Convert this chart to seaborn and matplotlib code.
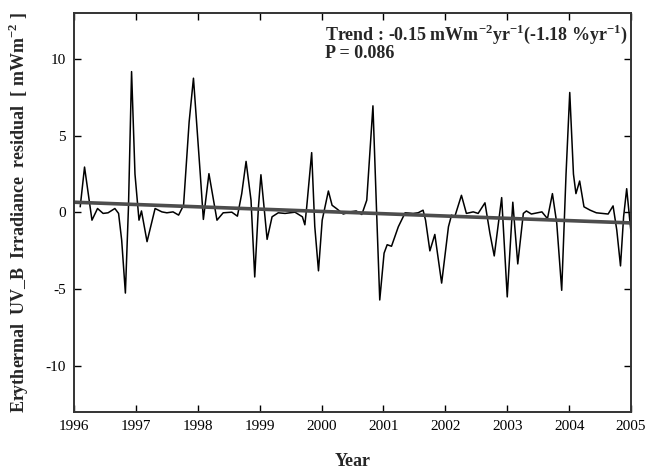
import numpy as np
import pandas as pd
import matplotlib
matplotlib.use("Agg")
import matplotlib.pyplot as plt
import seaborn as sns

# residual series (decimal year, mW m-2)
years = [1996.10, 1996.17, 1996.29, 1996.38, 1996.47, 1996.55, 1996.66, 1996.72, 1996.77, 1996.83,
         1996.88, 1996.93, 1996.985, 1997.05, 1997.09, 1997.18, 1997.31, 1997.42, 1997.50, 1997.60,
         1997.69, 1997.77, 1997.86, 1997.93, 1998.04, 1998.09, 1998.18, 1998.31, 1998.41, 1998.55,
         1998.64, 1998.71, 1998.78, 1998.86, 1998.92, 1998.98, 1999.02, 1999.07, 1999.12, 1999.20,
         1999.30, 1999.41, 1999.57, 1999.69, 1999.73, 1999.76, 1999.84, 1999.89, 1999.95, 2000.01,
         2000.11, 2000.17, 2000.24, 2000.35, 2000.46, 2000.56, 2000.65, 2000.73, 2000.83, 2000.89,
         2000.94, 2001.01, 2001.06, 2001.13, 2001.24, 2001.35, 2001.48, 2001.56, 2001.64, 2001.68,
         2001.75, 2001.83, 2001.94, 2002.05, 2002.10, 2002.15, 2002.26, 2002.34, 2002.45, 2002.53,
         2002.64, 2002.72, 2002.79, 2002.91, 2003.00, 2003.09, 2003.17, 2003.26, 2003.31, 2003.39,
         2003.56, 2003.65, 2003.73, 2003.80, 2003.88, 2003.95, 2004.01, 2004.07, 2004.11, 2004.17,
         2004.24, 2004.34, 2004.44, 2004.63, 2004.71, 2004.77, 2004.83, 2004.88, 2004.93, 2004.98,
         2005.00]
residual = [0.37, 2.96, -0.50, 0.26, -0.06, -0.02, 0.26, -0.06, -1.80, -5.25,
            0.37, 9.18, 2.50, -0.50, 0.10, -1.90, 0.26, 0.04, -0.02, 0.04,
            -0.17, 0.47, 5.90, 8.75, 2.50, -0.45, 2.53, -0.50, -0.02, 0.02,
            -0.24, 1.23, 3.33, 0.80, -4.20, 0.37, 2.46, 0.37, -1.75, -0.28,
            -0.02, -0.06, 0.02, -0.28, -0.80, 0.37, 3.90, -0.90, -3.80, -0.50,
            1.40, 0.47, 0.26, -0.10, 0.04, 0.10, -0.13, 0.80, 6.95, -0.06,
            -5.70, -2.65, -2.10, -2.20, -0.93, -0.02, -0.06, -0.02, 0.15, -0.50,
            -2.50, -1.43, -4.60, -0.93, -0.17, -0.30, 1.12, -0.06, 0.04, -0.06,
            0.63, -1.36, -2.83, 0.97, -5.50, 0.67, -3.35, -0.06, 0.10, -0.10,
            0.04, -0.40, 1.23, -0.70, -5.07, 2.50, 7.82, 2.50, 1.23, 2.05,
            0.37, 0.15, -0.02, -0.10, 0.43, -1.15, -3.48, -0.28, 1.55, -0.50,
            -1.30]

# linear trend end points
trend_years = [1996.0, 2005.0]
trend_vals = [0.67, -0.68]

year_ticks = list(range(1996, 2006))
y_ticks = [-10, -5, 0, 5, 10]

sns.set_style("ticks")
plt.rcParams['font.family'] = ['Liberation Serif', 'DejaVu Serif']
plt.rcParams['axes.unicode_minus'] = False
plt.rcParams['mathtext.fontset'] = 'custom'
plt.rcParams['mathtext.rm'] = 'Liberation Serif'
plt.rcParams['mathtext.bf'] = 'Liberation Serif:bold'

df = pd.DataFrame({'year': years, 'res': residual})
tr = pd.DataFrame({'year': trend_years, 'res': trend_vals})

fig = plt.figure(figsize=(6.47, 4.74), dpi=100)
ax = fig.add_axes([0.1144, 0.1308, 0.8609, 0.8418])

sns.lineplot(data=df, x='year', y='res', ax=ax, color='black', lw=1.1,
             sort=False, estimator=None)
sns.lineplot(data=tr, x='year', y='res', ax=ax, color='#4d4d4d', lw=2.6,
             sort=False, estimator=None)

ax.set_xlim(1996, 2005)
ax.set_ylim(-13, 13)
ax.set_xticks(year_ticks)
ax.set_yticks(y_ticks)
ax.tick_params(direction='in', length=5, width=1, top=True, right=True,
               labelsize=11, pad=6, colors='black')
for s in ax.spines.values():
    s.set_linewidth(1.4)
    s.set_color('#333333')

ax.set_xlabel('Year', fontsize=13, fontweight='bold', labelpad=14)
ax.set_ylabel(r'Erythermal  UV_B  Irradiance  residual  [ mWm$^{\mathbf{-2}}$ ]',
              fontsize=13, fontweight='bold', labelpad=10)

ax.text(0.45, 0.975, r'Trend : -0.15 mWm$^{\mathbf{-2}}$yr$^{\mathbf{-1}}$(-1.18 %yr$^{\mathbf{-1}}$)',
        transform=ax.transAxes, fontsize=13, fontweight='bold', va='top', ha='left')
ax.text(0.45, 0.92, 'P = 0.086', transform=ax.transAxes, fontsize=13,
        fontweight='bold', va='top', ha='left')

fig.savefig('out.png', dpi=100)
